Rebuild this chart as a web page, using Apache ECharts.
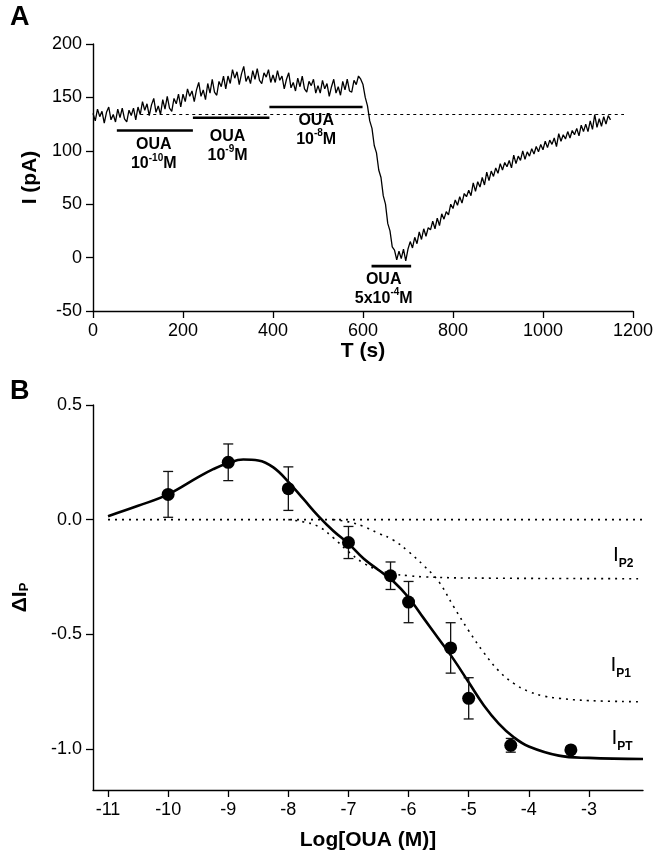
<!DOCTYPE html>
<html>
<head>
<meta charset="utf-8">
<script src="https://cdn.jsdelivr.net/npm/echarts@6/dist/echarts.min.js"></script>
<style>
  html, body { margin: 0; padding: 0; background: #fff; }
  #main { width: 656px; height: 853px; }
</style>
</head>
<body>
<div id="main"></div>
<script>
// ---- panel A: membrane current, one sample every 5 s from t = 0
const TRACE_STEP = 5;
const TRACE_I = [
  135, 128, 139, 132, 137, 126, 136, 141, 129, 134, 127, 139, 131, 140, 130, 127, 138, 133, 140, 129,
  141, 134, 146, 138, 144, 133, 143, 149, 136, 142, 134, 148, 139, 151, 140, 137, 149, 144, 153, 141,
  153, 146, 158, 151, 156, 146, 157, 164, 151, 157, 148, 163, 154, 167, 155, 152, 165, 160, 170, 158,
  170, 163, 176, 168, 174, 162, 172, 179, 165, 170, 163, 175, 167, 177, 166, 163, 173, 169, 176, 164,
  171, 164, 175, 166, 170, 158, 167, 173, 159, 164, 156, 168, 160, 170, 158, 155, 165, 161, 167, 154,
  161, 154, 166, 158, 163, 151, 160, 167, 154, 160, 152, 165, 157, 167, 156, 155, 166, 162, 170, 167,
  162, 150, 142, 128, 121, 105, 98, 82, 75, 58, 50, 32, 25, 10, 7, -2, 6, -1, 8, -3,
  8, 15, 9, 19, 13, 24, 17, 27, 20, 28, 26, 34, 27, 37, 30, 41, 36, 43, 40, 50,
  46, 54, 49, 57, 51, 60, 57, 63, 58, 70, 62, 71, 66, 75, 68, 80, 72, 81, 76, 84,
  79, 88, 82, 89, 85, 91, 84, 96, 88, 95, 91, 100, 92, 99, 95, 102, 97, 104, 99, 106,
  101, 109, 103, 110, 106, 112, 104, 116, 109, 115, 111, 118, 112, 119, 115, 121, 114, 124, 118, 125,
  118, 128, 120, 134, 122, 130, 123, 132, 125, 133, 129
];
// dotted baseline (s, pA)
const BASE_T = [105, 1180];
const BASE_I = 134;
// OUA application bars: start (s), end (s), level (pA)
const BAR_START = [53, 222, 392, 619];
const BAR_END = [222, 392, 599, 707];
const BAR_LEVEL = [119, 131, 141, -8];
// bar captions: centre (s, pA) and concentration text
const CAP_T = [135, 299, 496, 646];
const CAP_I = [98, 106, 121, -28];
const CAP_PRE = ['10', '10', '10', '5x10'];
const CAP_EXP = ['-10', '-9', '-8', '-4'];

// ---- panel B: dose response
const LOG_OUA = [-10, -9, -8, -7, -6.3, -6, -5.3, -5, -4.3, -3.3];
const DIP = [0.11, 0.25, 0.135, -0.10, -0.245, -0.36, -0.56, -0.78, -0.985, -1.005];
const DIP_ERR = [0.10, 0.08, 0.095, 0.07, 0.06, 0.09, 0.11, 0.09, 0.03, 0];

const PT_X = [-11, -10.5, -10, -9.5, -9.25, -9, -8.75, -8.5, -8.25, -8, -7.75, -7.5, -7.25, -7, -6.75, -6.5,
  -6.25, -6, -5.75, -5.5, -5.25, -5, -4.75, -4.5, -4.25, -4, -3.5, -3, -2.1];
const PT_Y = [0.015, 0.06, 0.11, 0.185, 0.22, 0.247, 0.262, 0.258, 0.228, 0.165, 0.09, 0.015, -0.05, -0.105, -0.17, -0.22,
  -0.27, -0.34, -0.43, -0.52, -0.61, -0.71, -0.81, -0.89, -0.95, -0.99, -1.03, -1.04, -1.045];

const P1_X = [-7.25, -7, -6.75, -6.5, -6.25, -6, -5.75, -5.5, -5.25, -5, -4.75, -4.5, -4.25, -4, -3.75, -3.5, -3, -2.1];
const P1_Y = [0, -0.01, -0.03, -0.06, -0.09, -0.14, -0.2, -0.27, -0.38, -0.485, -0.58, -0.66, -0.715, -0.75, -0.77, -0.78, -0.79, -0.795];

const P2_X = [-8, -7.75, -7.5, -7.25, -7, -6.75, -6.5, -6.25, -6, -5.75, -5, -2.1];
const P2_Y = [0, -0.01, -0.03, -0.08, -0.14, -0.19, -0.22, -0.237, -0.245, -0.25, -0.255, -0.258];

const ZERO_X = [-11, -2.1];

const X_TICKS_B = [-11, -10, -9, -8, -7, -6, -5, -4, -3];
const Y_TICKS_B = [0.5, 0, -0.5, -1];

// curve captions (log M, ΔIp)
const CURVE_NAMES = ['P2', 'P1', 'PT'];
const CURVE_LX = [-2.43, -2.47, -2.45];
const CURVE_LY = [-0.17, -0.65, -0.97];

const FONT = '"Liberation Sans", Arial, Helvetica, sans-serif';
const INK = '#000';

const chart = echarts.init(document.getElementById('main'), null, { renderer: 'canvas' });

function axisStyle() {
  return {
    axisLine: { show: true, onZero: false, lineStyle: { color: INK, width: 1.4 } },
    axisTick: { show: true, length: 7, lineStyle: { color: INK, width: 1.3 } },
    splitLine: { show: false },
    axisLabel: { color: INK, fontSize: 18, fontFamily: FONT, margin: 11 },
    nameTextStyle: { color: INK, fontSize: 21, fontWeight: 'bold', fontFamily: FONT }
  };
}

const xA = Object.assign(axisStyle(), {
  gridIndex: 0, type: 'value', min: 0, max: 1200, interval: 200,
  name: 'T (s)', nameLocation: 'middle', nameGap: 29
});
xA.axisLabel.formatter = v => String(v);
const yA = Object.assign(axisStyle(), {
  gridIndex: 0, type: 'value', min: -50, max: 200, interval: 50,
  name: 'I (pA)', nameLocation: 'middle', nameGap: 50, nameRotate: 90
});
const xB = Object.assign(axisStyle(), {
  gridIndex: 1, type: 'value', min: -11.25, max: -2.1,
  name: 'Log[OUA (M)]', nameLocation: 'middle', nameGap: 40
});
xB.axisTick.customValues = X_TICKS_B;
xB.axisLabel.customValues = X_TICKS_B;
xB.axisLabel.formatter = v => String(v);
const yB = Object.assign(axisStyle(), {
  gridIndex: 1, type: 'value', min: -1.18, max: 0.5,
  name: '{d|Δ}{i|I}{s|P}', nameLocation: 'middle', nameGap: 62, nameRotate: 90
});
yB.axisTick.customValues = Y_TICKS_B;
yB.axisLabel.customValues = Y_TICKS_B;
yB.axisLabel.formatter = v => v.toFixed(1);
yB.nameTextStyle.rich = {
  d: { fontSize: 21, fontFamily: FONT, color: INK, verticalAlign: 'bottom', lineHeight: 24 },
  i: { fontSize: 21, fontWeight: 'bold', fontFamily: FONT, color: INK, verticalAlign: 'bottom', lineHeight: 24 },
  s: { fontSize: 13, fontWeight: 'bold', fontFamily: FONT, color: INK, verticalAlign: 'bottom', lineHeight: 13 }
};

const series = [];

// trace
series.push({
  type: 'line', xAxisIndex: 0, yAxisIndex: 0, symbol: 'none', silent: true,
  data: TRACE_I.map((v, i) => [i * TRACE_STEP, v]),
  lineStyle: { color: '#000', width: 1.3 }, z: 3
});
// baseline
series.push({
  type: 'line', xAxisIndex: 0, yAxisIndex: 0, symbol: 'none', silent: true,
  data: BASE_T.map(t => [t, BASE_I]),
  lineStyle: { color: '#000', width: 1.2, type: [3, 3.5] }, z: 2
});
// OUA bars
BAR_START.forEach((s, k) => {
  series.push({
    type: 'line', xAxisIndex: 0, yAxisIndex: 0, symbol: 'none', silent: true,
    data: [[s, BAR_LEVEL[k]], [BAR_END[k], BAR_LEVEL[k]]],
    lineStyle: { color: '#000', width: 2.6 }, z: 2
  });
});
// bar captions
series.push({
  type: 'scatter', xAxisIndex: 0, yAxisIndex: 0, symbolSize: 1, silent: true,
  itemStyle: { color: 'rgba(0,0,0,0)', opacity: 1 },
  data: CAP_T.map((t, k) => ({
    value: [t, CAP_I[k]],
    label: { formatter: '{t|OUA}\n{t|' + CAP_PRE[k] + '}{s|' + CAP_EXP[k] + '}{t|M}' }
  })),
  label: {
    show: true, position: 'inside', align: 'center', verticalAlign: 'middle', color: INK,
    rich: {
      t: { fontSize: 16, fontWeight: 'bold', fontFamily: FONT, color: INK, lineHeight: 19, verticalAlign: 'bottom' },
      s: { fontSize: 10, fontWeight: 'bold', fontFamily: FONT, color: INK, lineHeight: 10, verticalAlign: 'top' }
    }
  }
});

// panel B zero line
series.push({
  type: 'line', xAxisIndex: 1, yAxisIndex: 1, symbol: 'none', silent: true,
  data: ZERO_X.map(x => [x, 0]),
  lineStyle: { color: '#000', width: 1.6, type: [2, 5] }, z: 2
});
// component curves
series.push({
  type: 'line', xAxisIndex: 1, yAxisIndex: 1, symbol: 'none', smooth: 0.4, silent: true,
  data: P2_X.map((x, k) => [x, P2_Y[k]]),
  lineStyle: { color: '#000', width: 1.6, type: [2, 5] }, z: 2
});
series.push({
  type: 'line', xAxisIndex: 1, yAxisIndex: 1, symbol: 'none', smooth: 0.4, silent: true,
  data: P1_X.map((x, k) => [x, P1_Y[k]]),
  lineStyle: { color: '#000', width: 1.6, type: [2, 5] }, z: 2
});
// total fit
series.push({
  type: 'line', xAxisIndex: 1, yAxisIndex: 1, symbol: 'none', smooth: 0.4, silent: true,
  data: PT_X.map((x, k) => [x, PT_Y[k]]),
  lineStyle: { color: '#000', width: 2.6 }, z: 3
});
// error bars
series.push({
  type: 'custom', xAxisIndex: 1, yAxisIndex: 1, silent: true, z: 4,
  data: LOG_OUA.map((x, k) => [x, DIP[k], DIP_ERR[k]]),
  encode: { x: 0, y: 1 },
  renderItem: function (params, api) {
    const x = api.value(0), y = api.value(1), e = api.value(2);
    if (!e) return { type: 'group', children: [] };
    const top = api.coord([x, y + e]);
    const bot = api.coord([x, y - e]);
    const w = 5;
    const st = { stroke: '#111', lineWidth: 1.3 };
    return {
      type: 'group', children: [
        { type: 'line', shape: { x1: top[0], y1: top[1], x2: bot[0], y2: bot[1] }, style: st },
        { type: 'line', shape: { x1: top[0] - w, y1: top[1], x2: top[0] + w, y2: top[1] }, style: st },
        { type: 'line', shape: { x1: bot[0] - w, y1: bot[1], x2: bot[0] + w, y2: bot[1] }, style: st }
      ]
    };
  }
});
// data points
series.push({
  type: 'scatter', xAxisIndex: 1, yAxisIndex: 1, symbol: 'circle', symbolSize: 13, silent: true,
  itemStyle: { color: '#000', opacity: 1 }, z: 5,
  data: LOG_OUA.map((x, k) => [x, DIP[k]])
});
// curve captions
series.push({
  type: 'scatter', xAxisIndex: 1, yAxisIndex: 1, symbolSize: 1, silent: true,
  itemStyle: { color: 'rgba(0,0,0,0)', opacity: 1 },
  data: CURVE_LX.map((x, k) => ({
    value: [x, CURVE_LY[k]],
    label: { formatter: '{i|I}{s|' + CURVE_NAMES[k] + '}' }
  })),
  label: {
    show: true, position: 'inside', align: 'center', verticalAlign: 'middle', color: INK,
    rich: {
      i: { fontSize: 21, fontFamily: FONT, color: INK, lineHeight: 22, verticalAlign: 'bottom', padding: [0, 0, 4, 0] },
      s: { fontSize: 12, fontWeight: 'bold', fontFamily: FONT, color: INK, lineHeight: 12, verticalAlign: 'bottom' }
    }
  }
});

const option = {
  animation: false,
  backgroundColor: '#fff',
  grid: [
    { left: 93, top: 44, width: 542, height: 267 },
    { left: 93, top: 405, width: 550, height: 385 }
  ],
  xAxis: [xA, xB],
  yAxis: [yA, yB],
  graphic: [
    { type: 'text', left: 10, top: 4, style: { text: 'A', fontSize: 27, fontWeight: 'bold', fontFamily: FONT, fill: INK } },
    { type: 'text', left: 10, top: 378, style: { text: 'B', fontSize: 27, fontWeight: 'bold', fontFamily: FONT, fill: INK } }
  ],
  series: series
};

chart.setOption(option);
</script>
</body>
</html>
